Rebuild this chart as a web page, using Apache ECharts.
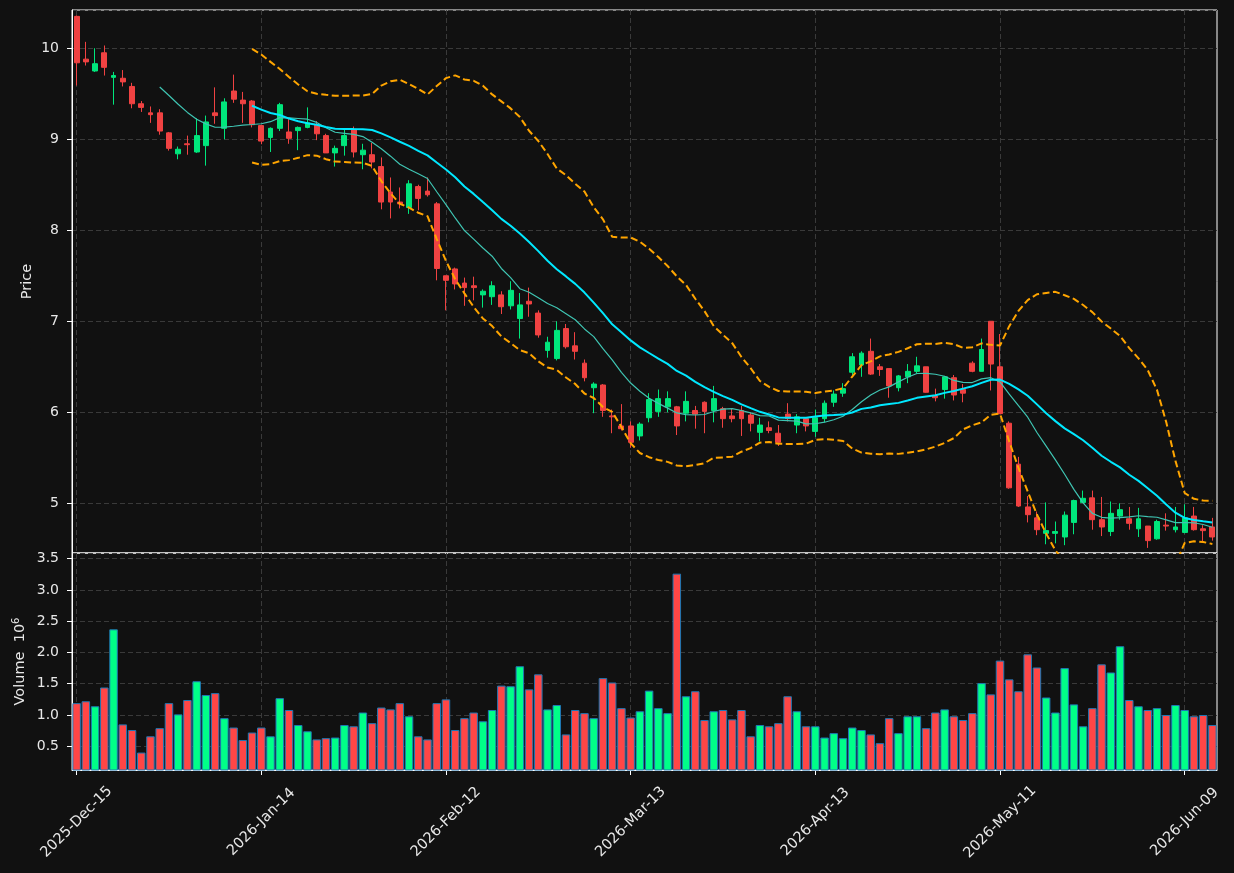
<!DOCTYPE html>
<html>
<head>
<meta charset="utf-8">
<title>Price / Volume</title>
<script src="https://cdn.jsdelivr.net/npm/echarts@6/dist/echarts.min.js"></script>
<style>
  html, body { margin: 0; padding: 0; background: #111111; }
  #chart { width: 1234px; height: 873px; }
</style>
</head>
<body>
<div id="chart"></div>
<script>
// trading days: weekdays from 2025-12-15, exchange holidays skipped
const startDay = [2025, 11, 15];
const holidays = ['2025-12-25', '2026-01-01', '2026-01-19', '2026-02-16', '2026-04-03', '2026-05-25'];
const monthNames = ['Jan','Feb','Mar','Apr','May','Jun','Jul','Aug','Sep','Oct','Nov','Dec'];

const opens = [
  10.35, 9.88, 9.75, 9.95, 9.68, 9.67, 9.58, 9.39, 9.29, 9.29,
  9.07, 8.84, 8.95, 8.86, 8.93, 9.29, 9.12, 9.53, 9.43, 9.42,
  9.15, 9.02, 9.12, 9.08, 9.095, 9.13, 9.16, 9.04, 8.85, 8.93,
  9.11, 8.83, 8.83, 8.70, 8.42, 8.31, 8.25, 8.48, 8.43, 8.29,
  7.50, 7.575, 7.42, 7.39, 7.29, 7.27, 7.29, 7.17, 7.03, 7.22,
  7.09, 6.68, 6.59, 6.92, 6.73, 6.54, 6.27, 6.30, 5.96, 5.85,
  5.85, 5.74, 5.94, 6.01, 6.06, 6.06, 5.99, 6.02, 6.11, 6.02,
  6.04, 5.96, 6.02, 5.97, 5.78, 5.83, 5.77, 5.98, 5.86, 5.93,
  5.79, 5.93, 6.11, 6.21, 6.44, 6.52, 6.67, 6.50, 6.48, 6.27,
  6.39, 6.45, 6.50, 6.18, 6.25, 6.38, 6.25, 6.54, 6.45, 7.00,
  6.50, 5.88, 5.43, 4.96, 4.84, 4.67, 4.67, 4.63, 4.79, 5.01,
  5.06, 4.82, 4.69, 4.86, 4.83, 4.72, 4.75, 4.61, 4.76, 4.71,
  4.68, 4.86, 4.72, 4.74
];
const closes = [
  9.84, 9.85, 9.83, 9.79, 9.70, 9.63, 9.39, 9.35, 9.27, 9.09,
  8.90, 8.89, 8.94, 9.04, 9.19, 9.26, 9.41, 9.44, 9.39, 9.16,
  8.98, 9.12, 9.38, 9.01, 9.13, 9.18, 9.06, 8.85, 8.90, 9.04,
  8.86, 8.88, 8.75, 8.31, 8.31, 8.29, 8.51, 8.35, 8.39, 7.58,
  7.45, 7.41, 7.37, 7.37, 7.33, 7.39, 7.16, 7.34, 7.18, 7.19,
  6.85, 6.77, 6.90, 6.72, 6.67, 6.38, 6.31, 6.02, 5.95, 5.82,
  5.67, 5.87, 6.14, 6.15, 6.15, 5.85, 6.12, 5.98, 6.01, 6.15,
  5.93, 5.93, 5.93, 5.88, 5.86, 5.80, 5.67, 5.93, 5.95, 5.85,
  5.94, 6.10, 6.20, 6.26, 6.61, 6.65, 6.42, 6.47, 6.29, 6.40,
  6.45, 6.51, 6.22, 6.16, 6.39, 6.19, 6.21, 6.45, 6.69, 6.53,
  5.985, 5.17, 4.97, 4.875, 4.71, 4.70, 4.69, 4.87, 5.03, 5.055,
  4.82, 4.74, 4.89, 4.93, 4.78, 4.83, 4.59, 4.80, 4.75, 4.74,
  4.84, 4.71, 4.70, 4.63
];
const lows = [
  9.59, 9.81, 9.74, 9.70, 9.38, 9.58, 9.34, 9.30, 9.18, 9.05,
  8.875, 8.78, 8.83, 8.85, 8.71, 9.17, 9.00, 9.40, 9.18, 9.13,
  8.945, 8.86, 9.09, 8.95, 8.88, 9.12, 8.99, 8.85, 8.70, 8.82,
  8.80, 8.67, 8.68, 8.23, 8.13, 8.24, 8.18, 8.22, 8.37, 7.45,
  7.12, 7.35, 7.17, 7.23, 7.15, 7.18, 7.08, 7.13, 6.81, 7.05,
  6.82, 6.60, 6.57, 6.70, 6.58, 6.34, 5.99, 5.95, 5.77, 5.80,
  5.61, 5.69, 5.89, 5.95, 6.00, 5.75, 5.90, 5.82, 5.77, 5.89,
  5.83, 5.89, 5.74, 5.79, 5.68, 5.77, 5.63, 5.90, 5.77, 5.79,
  5.73, 5.89, 6.06, 6.17, 6.41, 6.39, 6.41, 6.40, 6.16, 6.23,
  6.32, 6.43, 6.215, 6.12, 6.15, 6.13, 6.11, 6.44, 6.45, 6.24,
  5.98, 5.16, 4.96, 4.79, 4.65, 4.55, 4.56, 4.54, 4.66, 5.01,
  4.71, 4.64, 4.64, 4.82, 4.71, 4.63, 4.51, 4.60, 4.70, 4.68,
  4.67, 4.70, 4.58, 4.59
];
const highs = [
  10.36, 10.07, 10.00, 10.03, 9.74, 9.76, 9.62, 9.42, 9.36, 9.33,
  9.08, 8.92, 9.04, 9.23, 9.26, 9.57, 9.45, 9.71, 9.52, 9.43,
  9.15, 9.13, 9.40, 9.22, 9.14, 9.35, 9.20, 9.06, 8.93, 9.12,
  9.14, 8.95, 8.96, 8.80, 8.58, 8.47, 8.55, 8.50, 8.58, 8.31,
  7.50, 7.59, 7.48, 7.49, 7.35, 7.44, 7.33, 7.44, 7.31, 7.37,
  7.12, 6.83, 7.00, 6.97, 6.88, 6.58, 6.33, 6.31, 6.03, 6.09,
  5.90, 5.89, 6.21, 6.25, 6.23, 6.07, 6.23, 6.07, 6.12, 6.29,
  6.06, 6.04, 6.07, 6.00, 5.94, 5.90, 5.86, 6.10, 5.98, 5.94,
  6.03, 6.13, 6.24, 6.32, 6.65, 6.67, 6.81, 6.53, 6.48, 6.41,
  6.53, 6.61, 6.50, 6.26, 6.40, 6.41, 6.31, 6.56, 6.81, 7.00,
  6.86, 5.90, 5.51, 5.08, 4.91, 5.01, 4.80, 4.91, 5.04, 5.14,
  5.14, 5.07, 5.02, 5.00, 4.96, 4.95, 4.75, 4.82, 4.89, 4.96,
  4.99, 4.96, 4.76, 4.84
];
// volume in millions
const volumes = [
  1.19, 1.22, 1.14, 1.44, 2.37, 0.85, 0.76, 0.40, 0.66, 0.79,
  1.19, 1.01, 1.24, 1.54, 1.32, 1.35, 0.95, 0.80, 0.60, 0.72,
  0.80, 0.66, 1.27, 1.08, 0.84, 0.74, 0.61, 0.63, 0.64, 0.84,
  0.82, 1.04, 0.87, 1.12, 1.09, 1.19, 0.98, 0.66, 0.61, 1.19,
  1.25, 0.76, 0.95, 1.04, 0.90, 1.08, 1.47, 1.46, 1.78, 1.41,
  1.65, 1.09, 1.16, 0.69, 1.08, 1.03, 0.95, 1.59, 1.52, 1.11,
  0.96, 1.06, 1.39, 1.11, 1.03, 3.26, 1.30, 1.38, 0.92, 1.06,
  1.08, 0.93, 1.08, 0.66, 0.84, 0.82, 0.87, 1.30, 1.06, 0.82,
  0.82, 0.64, 0.71, 0.63, 0.80, 0.76, 0.69, 0.55, 0.95, 0.71,
  0.98, 0.98, 0.79, 1.04, 1.09, 0.98, 0.92, 1.03, 1.51, 1.33,
  1.87, 1.57, 1.38, 1.97, 1.76, 1.28, 1.04, 1.75, 1.17, 0.82,
  1.11, 1.81, 1.68, 2.10, 1.24, 1.14, 1.08, 1.11, 1.00, 1.16,
  1.08, 0.98, 1.00, 0.84
];

const upColor = '#00e67c';
const downColor = '#f04242';
const upVolColor = '#00ff88';
const downVolColor = '#ff4646';

// build the date labels
const dates = [];
const d = new Date(Date.UTC(startDay[0], startDay[1], startDay[2]));
while (dates.length < closes.length) {
  const iso = d.toISOString().slice(0, 10);
  const dow = d.getUTCDay();
  if (dow !== 0 && dow !== 6 && holidays.indexOf(iso) < 0) {
    dates.push(d.getUTCFullYear() + '-' + monthNames[d.getUTCMonth()] + '-' + iso.slice(8, 10));
  }
  d.setUTCDate(d.getUTCDate() + 1);
}

function movingAvg(vals, n) {
  return vals.map((v, i) => {
    if (i < n - 1) return '-';
    let s = 0;
    for (let k = i - n + 1; k <= i; k++) s += vals[k];
    return +(s / n).toFixed(4);
  });
}
function bollinger(vals, n, k) {
  const up = [], lo = [];
  vals.forEach((v, i) => {
    if (i < n - 1) { up.push('-'); lo.push('-'); return; }
    const win = vals.slice(i - n + 1, i + 1);
    const m = win.reduce((a, b) => a + b, 0) / n;
    const sd = Math.sqrt(win.reduce((a, b) => a + (b - m) * (b - m), 0) / n);
    up.push(+(m + k * sd).toFixed(4));
    lo.push(+(m - k * sd).toFixed(4));
  });
  return [up, lo];
}

const ma10 = movingAvg(closes, 10);
const ma20 = movingAvg(closes, 20);
const bands = bollinger(closes, 20, 2);

const candleData = closes.map((c, i) => [opens[i], c, lows[i], highs[i]]);
const volData = volumes.map((v, i) => ({
  value: v,
  itemStyle: { color: closes[i] >= opens[i] ? upVolColor : downVolColor }
}));

const gridLine = { show: true, lineStyle: { color: '#3a3a3a', type: [5, 3], width: 1 } };
const labelColor = '#e8e8e8';

const chart = echarts.init(document.getElementById('chart'));
chart.setOption({
  backgroundColor: '#111111',
  animation: false,
  textStyle: { fontFamily: 'DejaVu Sans' },
  grid: [
    { left: 72, right: 17, top: 10, height: 543, show: true, borderColor: '#ffffff', borderWidth: 1, backgroundColor: 'transparent' },
    { left: 72, right: 17, top: 553, height: 217, show: true, borderColor: '#ffffff', borderWidth: 1, backgroundColor: 'transparent' }
  ],
  xAxis: [
    {
      type: 'category', gridIndex: 0, data: dates, boundaryGap: true,
      axisLine: { show: false }, axisTick: { show: false }, axisLabel: { show: false },
      splitLine: Object.assign({ interval: 19, alignWithLabel: true }, gridLine)
    },
    {
      type: 'category', gridIndex: 1, data: dates, boundaryGap: true,
      axisLine: { show: true, lineStyle: { color: '#ffffff' } },
      axisTick: { show: true, interval: 19, alignWithLabel: true, length: 5, lineStyle: { color: '#ffffff' } },
      axisLabel: { interval: 19, rotate: 45, color: labelColor, fontSize: 14.5, margin: 52,
        align: 'center', verticalAlign: 'middle' },
      splitLine: Object.assign({ interval: 19, alignWithLabel: true }, gridLine)
    }
  ],
  yAxis: [
    {
      type: 'value', gridIndex: 0, min: 4.454, max: 10.42, splitNumber: 6,
      name: 'Price', nameLocation: 'middle', nameGap: 37, nameRotate: 90, nameMoveOverlap: false,
      nameTextStyle: { color: labelColor, fontSize: 14.5 },
      axisLine: { show: true, lineStyle: { color: '#ffffff' } },
      axisTick: { show: true, length: 5, lineStyle: { color: '#ffffff' } },
      axisLabel: { color: labelColor, fontSize: 14, margin: 13, showMinLabel: false, showMaxLabel: false,
        formatter: v => String(Math.round(v)) },
      splitLine: gridLine
    },
    {
      type: 'value', gridIndex: 1, min: 0.121, max: 3.59, splitNumber: 7,
      name: 'Volume  10{sup|6}', nameLocation: 'middle', nameGap: 43, nameRotate: 90, nameMoveOverlap: false,
      nameTextStyle: { color: labelColor, fontSize: 14.5,
        rich: { sup: { fontSize: 10, color: labelColor, verticalAlign: 'top', padding: [0, 0, 8, 0] } } },
      axisLine: { show: true, lineStyle: { color: '#ffffff' } },
      axisTick: { show: true, length: 5, lineStyle: { color: '#ffffff' } },
      axisLabel: { color: labelColor, fontSize: 14, margin: 13, showMinLabel: false, showMaxLabel: false,
        formatter: v => v.toFixed(1) },
      splitLine: gridLine
    }
  ],
  series: [
    {
      name: 'OHLC', type: 'candlestick', xAxisIndex: 0, yAxisIndex: 0,
      data: candleData, barWidth: '58%',
      itemStyle: { color: upColor, color0: downColor, borderColor: upColor, borderColor0: downColor, borderWidth: 1 }
    },
    {
      name: 'MA10', type: 'line', xAxisIndex: 0, yAxisIndex: 0, data: ma10,
      showSymbol: false, lineStyle: { color: '#3fc4b2', width: 1.2 }, z: 3
    },
    {
      name: 'MA20', type: 'line', xAxisIndex: 0, yAxisIndex: 0, data: ma20,
      showSymbol: false, lineStyle: { color: '#00e8ff', width: 2 }, z: 3
    },
    {
      name: 'BB upper', type: 'line', xAxisIndex: 0, yAxisIndex: 0, data: bands[0],
      showSymbol: false, lineStyle: { color: '#ffa500', width: 2, type: [7, 3.5] }, z: 3
    },
    {
      name: 'BB lower', type: 'line', xAxisIndex: 0, yAxisIndex: 0, data: bands[1],
      showSymbol: false, lineStyle: { color: '#ffa500', width: 2, type: [7, 3.5] }, z: 3
    },
    {
      name: 'Volume', type: 'bar', xAxisIndex: 1, yAxisIndex: 1, data: volData,
      barWidth: '92%', itemStyle: { borderColor: '#1f77b4', borderWidth: 1 }
    }
  ]
});
</script>
</body>
</html>
